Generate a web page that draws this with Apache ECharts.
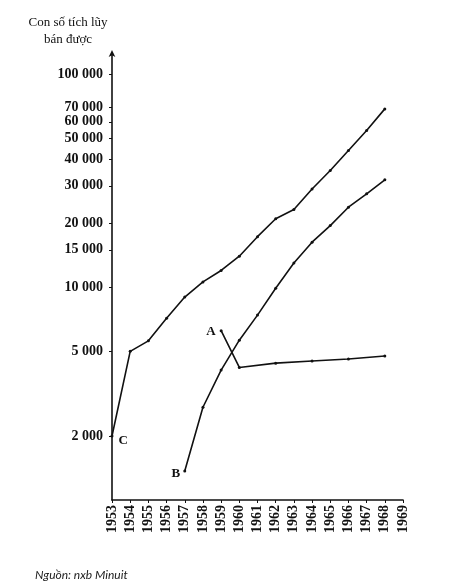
<!DOCTYPE html>
<html>
<head>
<meta charset="utf-8">
<script src="https://cdn.jsdelivr.net/npm/echarts@6/dist/echarts.min.js"></script>
<style>
html,body{margin:0;padding:0;background:#fff;}
#chart{width:450px;height:588px;}
</style>
</head>
<body>
<div id="chart"></div>
<script>
var years = ['1953','1954','1955','1956','1957','1958','1959','1960','1961','1962','1963','1964','1965','1966','1967','1968','1969'];
var seriesC = [2000, 5000, 5600, 7150, 9000, 10600, 12000, 14000, 17300, 21000, 23200, 29000, 35400, 44000, 54600, 69000, null];
var seriesB = [null, null, null, null, 1370, 2730, 4080, 5640, 7400, 9900, 13000, 16300, 19500, 23800, 27500, 32000, null];
var seriesA = [null, null, null, null, null, null, 6250, 4200, null, 4400, null, 4500, null, 4600, null, 4750, null];
var yTicks = [2000, 5000, 10000, 15000, 20000, 30000, 40000, 50000, 60000, 70000, 100000];
var yTitle = 'Con số tích lũy\nbán được';
var source = 'Nguồn: nxb Minuit';

var serif = 'Liberation Serif';
function fmt(v) {
  return String(Math.round(v)).replace(/\B(?=(\d{3})+(?!\d))/g, ' ');
}
function withLabel(arr, name, pos, offset) {
  var first = arr.findIndex(function (v) { return v != null; });
  return arr.map(function (v, i) {
    if (i === first) {
      return {
        value: v,
        label: {
          show: true, formatter: name, position: pos, offset: offset,
          fontFamily: serif, fontWeight: 'bold', fontSize: 13, color: '#111'
        }
      };
    }
    return v;
  });
}
function lineSeries(name, data) {
  return {
    name: name, type: 'line', data: data, connectNulls: true,
    symbol: 'circle', symbolSize: 3, showSymbol: true,
    lineStyle: { color: '#111', width: 1.6 },
    itemStyle: { color: '#111' },
    emphasis: { disabled: true },
    animation: false
  };
}

var chart = echarts.init(document.getElementById('chart'));
chart.setOption({
  backgroundColor: '#fff',
  animation: false,
  grid: { left: 112, right: 47, top: 54, bottom: 88 },
  xAxis: {
    type: 'category', data: years, boundaryGap: false,
    axisLine: { lineStyle: { color: '#111', width: 1.6 } },
    axisTick: { show: true, length: 3, alignWithLabel: true, lineStyle: { color: '#111' } },
    axisLabel: {
      rotate: 90, interval: 0, margin: 5,
      fontFamily: serif, fontWeight: 'bold', fontSize: 14, color: '#111'
    },
    splitLine: { show: false }
  },
  yAxis: {
    type: 'log', logBase: 10, min: 1000, max: 125000,
    axisLine: { show: true, symbol: ['none', 'arrow'], symbolSize: [5, 7], symbolOffset: [0, 4], lineStyle: { color: '#111', width: 1.6 } },
    axisTick: { show: true, length: 3, customValues: yTicks, lineStyle: { color: '#111' } },
    axisLabel: {
      customValues: yTicks, formatter: fmt, margin: 9,
      fontFamily: serif, fontWeight: 'bold', fontSize: 14, color: '#111'
    },
    splitLine: { show: false },
    minorTick: { show: false }
  },
  graphic: [
    {
      type: 'text', x: 68, y: 14,
      style: {
        text: yTitle, textAlign: 'center', fontFamily: serif, fontSize: 13,
        lineHeight: 17, fill: '#111'
      }
    },
    {
      type: 'text', x: 35, y: 569,
      style: {
        text: source, fontFamily: 'Lato', fontStyle: 'italic', fontSize: 12, fill: '#222'
      }
    }
  ],
  series: [
    lineSeries('C', withLabel(seriesC, 'C', 'right', [0, 5])),
    lineSeries('B', withLabel(seriesB, 'B', 'left', [2, 3])),
    lineSeries('A', withLabel(seriesA, 'A', 'left', [1, 1]))
  ]
});
</script>
</body>
</html>
